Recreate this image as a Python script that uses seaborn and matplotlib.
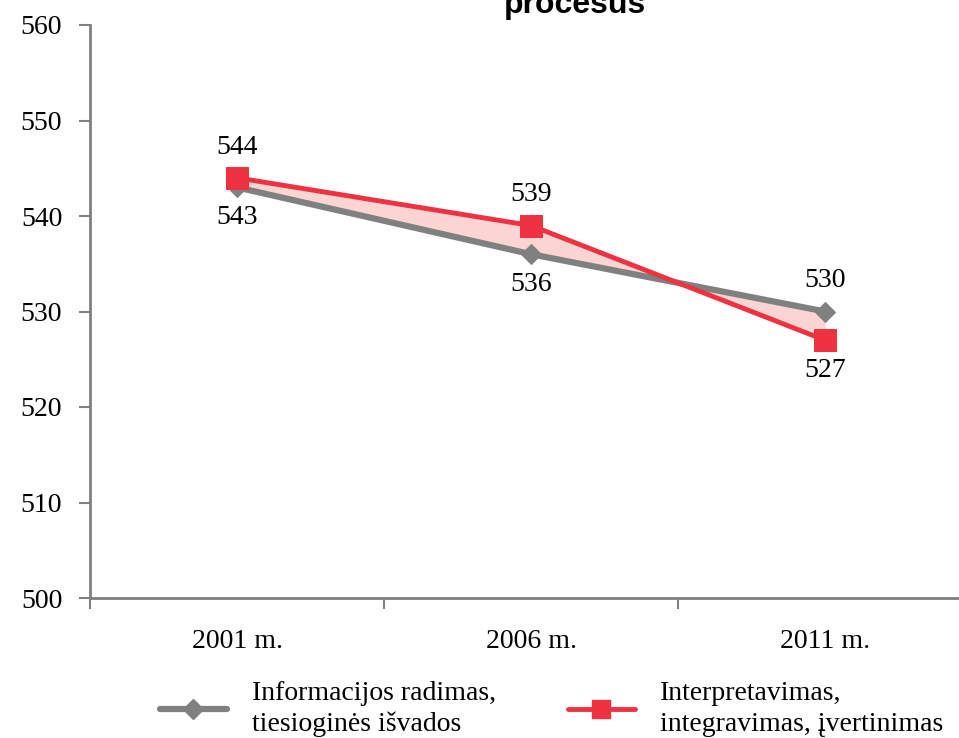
import numpy as np
import pandas as pd
import seaborn as sns
import matplotlib.pyplot as plt

years = ["2001 m.", "2006 m.", "2011 m."]
info = [543, 536, 530]
interp = [544, 539, 527]
labels = ["Informacijos radimas,\ntiesioginės išvados",
          "Interpretavimas,\nintegravimas, įvertinimas"]

gray = "#808080"
red = "#EE3242"
pink = "#FBD5D2"

sns.set_style("white")
plt.rcParams['font.family'] = ['Liberation Serif', 'DejaVu Serif']
plt.rcParams['text.color'] = 'black'
plt.rcParams['xtick.color'] = gray
plt.rcParams['ytick.color'] = gray

df = pd.DataFrame({"year": years * 2,
                   "score": info + interp,
                   "serija": [labels[0]] * 3 + [labels[1]] * 3})

fig = plt.figure(figsize=(9.59, 7.38), dpi=100)
ax = fig.add_axes([90 / 959, 140 / 738, 882 / 959, 573 / 738])

pos = np.arange(len(years))
ax.fill_between(pos, info, interp, color=pink, lw=0, zorder=1)

sns.lineplot(data=df, x="year", y="score", hue="serija", style="serija",
             palette=[gray, red], markers=["D", "s"], dashes=False,
             sort=False, ax=ax, legend=False, zorder=3)
lines = ax.get_lines()
lines[0].set_linewidth(4.5)
lines[0].set_markersize(10)
lines[0].set_markeredgecolor(gray)
lines[1].set_linewidth(3.5)
lines[1].set_markersize(16)
lines[1].set_markeredgecolor(red)

# data labels
for i in range(len(years)):
    hi, lo = (interp[i], info[i]) if interp[i] > info[i] else (info[i], interp[i])
    ax.annotate(str(hi), (pos[i], hi), xytext=(0, 13), textcoords="offset points",
                ha="center", va="bottom", fontsize=20)
    ax.annotate(str(lo), (pos[i], lo), xytext=(0, -13), textcoords="offset points",
                ha="center", va="top", fontsize=20)

ax.set_xlim(-0.5, 2.5)
ax.set_ylim(500, 560)
ax.set_yticks(range(500, 561, 10))
ax.set_xticks(pos)
ax.set_xticklabels(years)
ax.set_xticks(np.arange(-0.5, 3, 1), minor=True)
ax.tick_params(axis="x", which="major", bottom=False, length=0, pad=22,
               labelsize=20, labelcolor="black")
ax.tick_params(axis="x", which="minor", bottom=True, length=8, width=1.5, direction="out")
ax.tick_params(axis="y", left=True, length=8, width=1.5, direction="out",
               labelsize=20, pad=12, labelcolor="black")
ax.set_xlabel("")
ax.set_ylabel("")
for s in ["top", "right"]:
    ax.spines[s].set_visible(False)
for s in ["left", "bottom"]:
    ax.spines[s].set_color(gray)
    ax.spines[s].set_linewidth(2)

fig.text(575 / 959, 1 - 13 / 738, "procesus", ha="center", va="baseline",
         fontsize=23, fontweight="bold", family=["Liberation Sans", "DejaVu Sans"])

handles = [plt.Line2D([], [], color=gray, lw=4.5, marker="D", markersize=10),
           plt.Line2D([], [], color=red, lw=3.5, marker="s", markersize=13)]
leg = fig.legend(handles, labels, loc="center left", bbox_to_anchor=(135 / 959, 1 - 709 / 738),
                 ncol=2, frameon=False, fontsize=20, handlelength=2.4, columnspacing=2.6,
                 handletextpad=0.9)
for t in leg.get_texts():
    t.set_linespacing(1.3)

fig.savefig("out.png", dpi=100)
